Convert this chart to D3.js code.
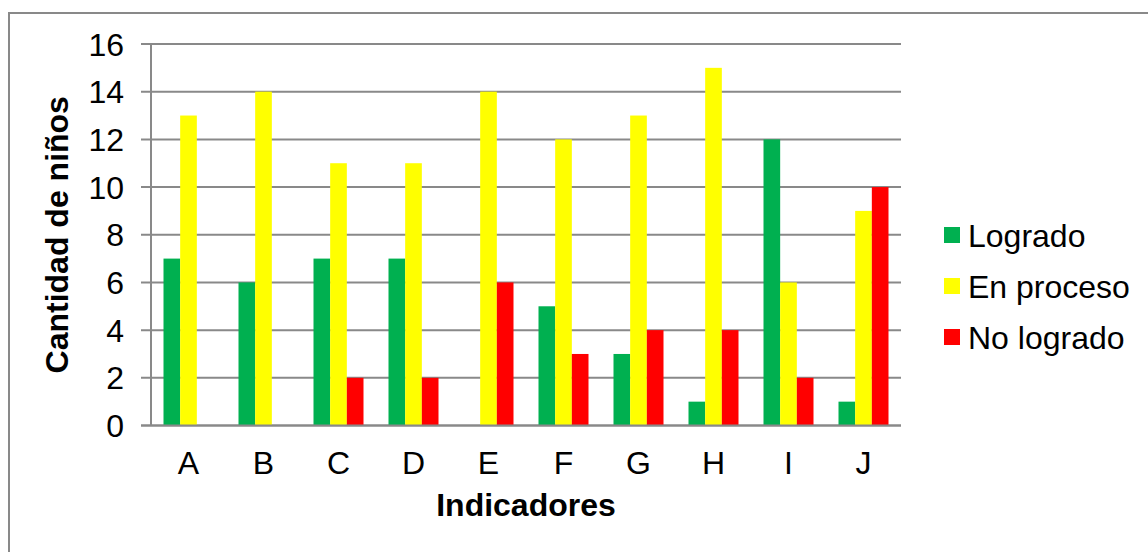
<!DOCTYPE html>
<html>
<head>
<meta charset="utf-8">
<script src="https://cdn.jsdelivr.net/npm/d3@7"></script>
<style>
  html, body { margin: 0; padding: 0; background: #fff; }
  svg { display: block; font-family: "Liberation Sans", Arial, sans-serif; }
</style>
</head>
<body>
<svg id="chart" width="1148" height="552"></svg>
<script>
// Indicator categories and counts per result level
const categories = ["A", "B", "C", "D", "E", "F", "G", "H", "I", "J"];
const seriesNames = ["Logrado", "En proceso", "No logrado"];
const logrado    = [7, 6, 7, 7, 0, 5, 3, 1, 12, 1];
const enProceso  = [13, 14, 11, 11, 14, 12, 13, 15, 6, 9];
const noLogrado  = [0, 0, 2, 2, 6, 3, 4, 4, 2, 10];
const yTicks = [0, 2, 4, 6, 8, 10, 12, 14, 16];
const colors = ["#00B050", "#FFFF00", "#FF0000"];

const seriesValues = [logrado, enProceso, noLogrado];
const rows = categories.map((c, i) => ({
  cat: c,
  vals: seriesNames.map((s, k) => ({ series: s, k, value: seriesValues[k][i] }))
}));

const svg = d3.select("#chart");
const gridColor = "#898989";
const fontSize = 32;

// outer chart frame
svg.append("rect")
  .attr("x", 9).attr("y", 13)
  .attr("width", 1160).attr("height", 560)
  .attr("fill", "none").attr("stroke", gridColor).attr("stroke-width", 2);

const plot = { left: 151, right: 901, top: 44, bottom: 425.5 };

const x = d3.scaleBand().domain(categories).range([plot.left, plot.right]).padding(0);
const barW = x.bandwidth() / 4.5;
const y = d3.scaleLinear().domain([0, 16]).range([plot.bottom, plot.top]);

// horizontal gridlines with tick stubs
svg.append("g")
  .selectAll("line")
  .data(yTicks)
  .join("line")
  .attr("x1", plot.left - 10).attr("x2", plot.right)
  .attr("y1", d => y(d)).attr("y2", d => y(d))
  .attr("stroke", gridColor).attr("stroke-width", 2);

// bars
const groups = svg.append("g")
  .selectAll("g")
  .data(rows)
  .join("g")
  .attr("transform", d => `translate(${x(d.cat) + x.bandwidth() / 2 - 1.5 * barW},0)`);

groups.selectAll("rect")
  .data(d => d.vals.filter(v => v.value > 0))
  .join("rect")
  .attr("x", v => v.k * barW)
  .attr("y", v => y(v.value))
  .attr("width", barW)
  .attr("height", v => y(0) - y(v.value))
  .attr("fill", v => colors[v.k]);

// vertical axis line
svg.append("line")
  .attr("x1", plot.left).attr("x2", plot.left)
  .attr("y1", plot.top).attr("y2", plot.bottom)
  .attr("stroke", gridColor).attr("stroke-width", 2);

// baseline
svg.append("line")
  .attr("x1", plot.left - 10).attr("x2", plot.right)
  .attr("y1", y(0)).attr("y2", y(0))
  .attr("stroke", gridColor).attr("stroke-width", 2);

// y tick labels
svg.append("g")
  .selectAll("text")
  .data(yTicks)
  .join("text")
  .attr("x", 124)
  .attr("y", d => y(d))
  .attr("dy", "0.36em")
  .attr("text-anchor", "end")
  .attr("font-size", fontSize)
  .attr("fill", "#000")
  .text(d => d);

// x tick labels
svg.append("g")
  .selectAll("text")
  .data(categories)
  .join("text")
  .attr("x", d => x(d) + x.bandwidth() / 2)
  .attr("y", 474)
  .attr("text-anchor", "middle")
  .attr("font-size", fontSize)
  .attr("fill", "#000")
  .text(d => d);

// axis titles
svg.append("text")
  .attr("x", (plot.left + plot.right) / 2)
  .attr("y", 516)
  .attr("text-anchor", "middle")
  .attr("font-size", fontSize)
  .attr("font-weight", "bold")
  .text("Indicadores");

svg.append("text")
  .attr("transform", `translate(68,${(plot.top + plot.bottom) / 2}) rotate(-90)`)
  .attr("text-anchor", "middle")
  .attr("font-size", fontSize)
  .attr("font-weight", "bold")
  .text("Cantidad de niños");

// legend
const legend = svg.append("g")
  .selectAll("g")
  .data(seriesNames)
  .join("g")
  .attr("transform", (d, i) => `translate(944,${235 + i * 51})`);

legend.append("rect")
  .attr("x", 0).attr("y", -8)
  .attr("width", 16).attr("height", 16)
  .attr("fill", (d, i) => colors[i]);

legend.append("text")
  .attr("x", 24).attr("y", 0)
  .attr("dy", "0.36em")
  .attr("font-size", fontSize)
  .text(d => d);
</script>
</body>
</html>
